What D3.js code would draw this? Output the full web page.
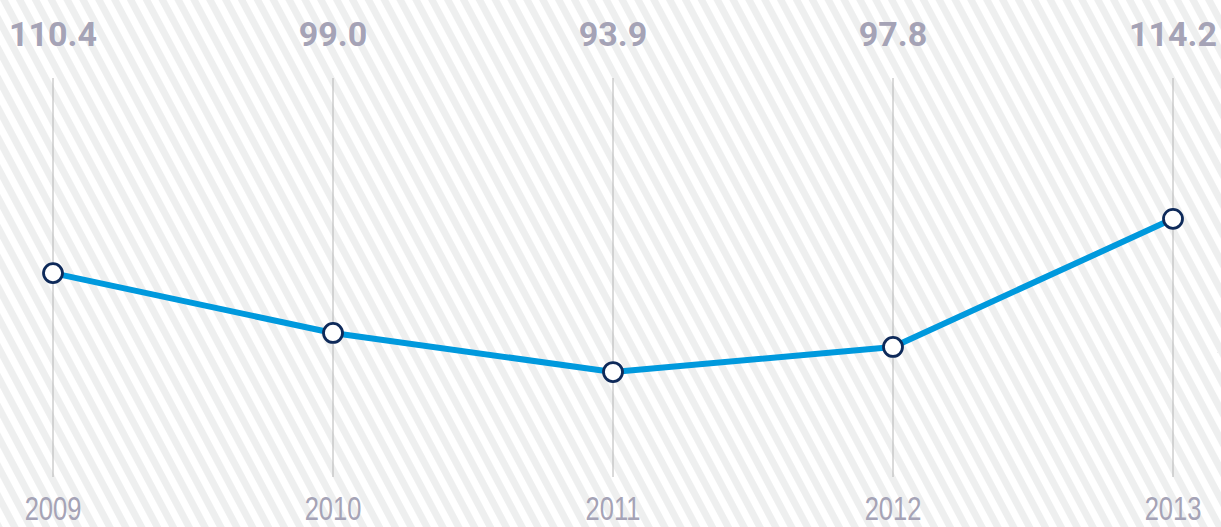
<!DOCTYPE html>
<html>
<head>
<meta charset="utf-8">
<script src="https://cdn.jsdelivr.net/npm/d3@7"></script>
<style>
  html, body { margin: 0; padding: 0; background: #fff; }
  svg { display: block; }
</style>
</head>
<body>
<div id="chart"></div>
<script>
// data
var years = ["2009", "2010", "2011", "2012", "2013"];
var valueLabels = ["110.4", "99.0", "93.9", "97.8", "114.2"];
// line height as drawn (0-100 along the guide lines)
var lineLevels = [51.1, 36.1, 26.3, 32.6, 64.7];

var width = 1221, height = 527;

var svg = d3.select("#chart").append("svg")
    .attr("width", width)
    .attr("height", height);

//striped background
var defs = svg.append("defs");
var pat = defs.append("pattern")
    .attr("id", "stripes")
    .attr("patternUnits", "userSpaceOnUse")
    .attr("width", 14)
    .attr("height", 14)
    .attr("patternTransform", "rotate(-28)");
pat.append("rect")
    .attr("width", 14).attr("height", 14)
    .attr("fill", "#ffffff");
pat.append("rect")
    .attr("width", 7).attr("height", 14)
    .attr("fill", "#eeefef");

svg.append("rect")
    .attr("width", width)
    .attr("height", height)
    .attr("fill", "url(#stripes)");

//scales
var x = d3.scalePoint()
    .domain(years)
    .range([53, 1173]);

var y = d3.scaleLinear()
    .domain([0, 100])
    .range([477, 78]);

//guide lines
svg.append("g")
    .selectAll("line")
    .data(years)
    .enter()
    .append("line")
    .attr("x1", (d) => x(d))
    .attr("x2", (d) => x(d))
    .attr("y1", y(100))
    .attr("y2", y(0))
    .style("stroke", "#b4b4b4")
    .style("stroke-width", 1);

//value labels on top
svg.append("g")
    .selectAll("text")
    .data(valueLabels)
    .enter()
    .append("text")
    .attr("x", (d, i) => x(years[i]))
    .attr("y", 46)
    .style("text-anchor", "middle")
    .style("font-family", "Roboto, sans-serif")
    .style("font-weight", "bold")
    .style("font-size", "34px")
    .style("fill", "#a5a3b6")
    .text((d) => d);

//year labels at the bottom
svg.append("g")
    .selectAll("text")
    .data(years)
    .enter()
    .append("text")
    .attr("transform", (d) => "translate(" + x(d) + ",520) scale(0.75,1)")
    .style("text-anchor", "middle")
    .style("font-family", "'Liberation Sans Narrow', 'Liberation Sans', sans-serif")
    .style("font-size", "34px")
    .style("fill", "#a5a3b6")
    .text((d) => d);

//the line
var line = d3.line()
    .x((d, i) => x(years[i]))
    .y((d) => y(d));

svg.append("path")
    .datum(lineLevels)
    .attr("d", line)
    .style("fill", "none")
    .style("stroke", "#0099dd")
    .style("stroke-width", 6)
    .style("stroke-linejoin", "round");

svg.append("g")
    .selectAll("circle")
    .data(lineLevels)
    .enter()
    .append("circle")
    .attr("cx", (d, i) => x(years[i]))
    .attr("cy", (d) => y(d))
    .attr("r", 9.5)
    .style("fill", "#ffffff")
    .style("stroke", "#0e2a5a")
    .style("stroke-width", 2.8);
</script>
</body>
</html>
